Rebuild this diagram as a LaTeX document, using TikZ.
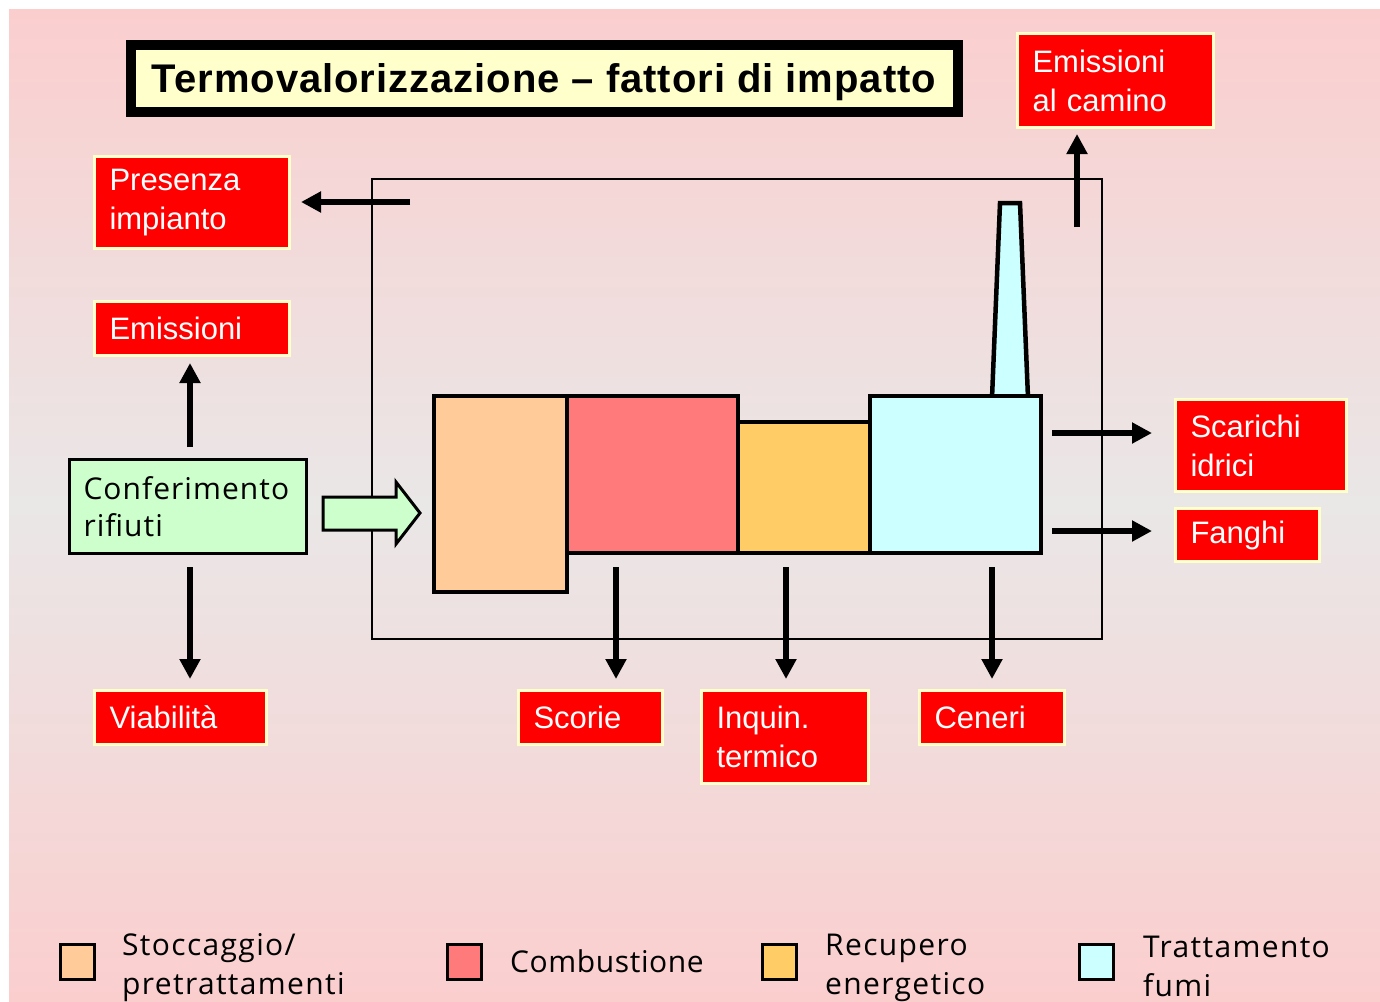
\documentclass[tikz,border=0pt]{standalone}
\usepackage{fontspec}
\setmainfont{Liberation Sans}
\newfontfamily\handfont{Open Sans}
\usetikzlibrary{arrows.meta}

\definecolor{bgpink}{RGB}{251,206,206}
\definecolor{bggrey}{RGB}{234,231,231}
\definecolor{paleyellow}{RGB}{255,255,204}
\definecolor{boxred}{RGB}{255,0,0}
\definecolor{palegreen}{RGB}{204,255,204}
\definecolor{storeorange}{RGB}{255,204,153}
\definecolor{combred}{RGB}{255,122,122}
\definecolor{energyorange}{RGB}{255,204,102}
\definecolor{fumecyan}{RGB}{204,255,255}

\tikzset{
  impact/.style={draw=paleyellow, line width=3pt, fill=boxred, text=white,
    font=\fontsize{31}{39}\selectfont, align=left, anchor=north west,
    inner xsep=15pt, inner ysep=0pt},
  unit/.style={draw=black, line width=4.5pt, fill=#1, inner sep=0pt, outer sep=0pt,
    anchor=north west},
  arr/.style={line width=6.5pt, -{Triangle[length=20pt,width=20pt]}},
  legendbox/.style={draw=black, line width=3pt, fill=#1, minimum width=34pt,
    minimum height=35pt, inner sep=0pt, anchor=north west},
  legendtext/.style={font=\handfont\fontsize{30}{39}\selectfont\addfontfeatures{LetterSpace=4.5},
    align=left, anchor=west, inner sep=0pt},
}

\begin{document}
\begin{tikzpicture}[x=1pt,y=-1pt]
\useasboundingbox (0,0) rectangle (1380,1001);

% background with vertical pink-grey-pink gradient
\fill[top color=bgpink, bottom color=bgpink, middle color=bggrey] (9,9) rectangle (1380,1001);

% title
\node[draw=black, line width=10pt, fill=paleyellow, minimum width=827pt, minimum height=67pt,
      inner sep=0pt, text height=32pt, text depth=4pt,
      font=\bfseries\fontsize{40}{40}\selectfont] (title) at (544,78)
      {\addfontfeatures{LetterSpace=2.4}Termovalorizzazione -- fattori di impatto};

% plant boundary
\draw[line width=2pt] (372,179) rectangle (1102,639);

% process units
\draw[line width=4.5pt, fill=fumecyan] (1000,203) -- (1020,203) -- (1028,398) -- (992,398) -- cycle;
\node[unit=storeorange, minimum width=133pt, minimum height=196pt] (stock) at (434,396) {};
\node[unit=combred, minimum width=171pt, minimum height=157pt] (comb) at (567,396) {};
\node[unit=energyorange, minimum width=132pt, minimum height=131pt] (recup) at (738,422) {};
\node[unit=fumecyan, minimum width=171pt, minimum height=157pt] (fumi) at (870,396) {};

% impact boxes
\node[impact, text width=165pt, minimum height=92pt] (pres) at (93,155) {Presenza\\impianto};
\node[impact, text width=165pt, minimum height=54pt] (emis) at (93,300) {Emissioni};
\node[impact, text width=142pt, minimum height=54pt] (viab) at (93,689) {Viabilità};
\node[impact, text width=166pt, minimum height=94pt] (camino) at (1016,32) {Emissioni\\al camino};
\node[impact, text width=141pt, minimum height=92pt] (scar) at (1174,398) {Scarichi\\idrici};
\node[impact, text width=114pt, minimum height=53pt] (fang) at (1174,507) {Fanghi};
\node[impact, text width=114pt, minimum height=54pt] (scor) at (517,689) {Scorie};
\node[impact, text width=137pt, minimum height=93pt] (inq) at (700,689) {Inquin.\\termico};
\node[impact, text width=115pt, minimum height=54pt] (cen) at (918,689) {Ceneri};

% waste delivery
\node[draw=black, line width=3pt, fill=palegreen, minimum width=237pt, minimum height=94pt,
      text width=209pt, inner xsep=14pt, align=left, anchor=north west,
      font=\handfont\fontsize{30}{37}\selectfont\addfontfeatures{LetterSpace=3.5}] (conf) at (68,458)
      {Conferimento\\rifiuti};
\draw[line width=3pt, fill=palegreen] (323,497) -- (396,497) -- (396,482) -- (420,513)
      -- (396,544) -- (396,530) -- (323,530) -- cycle;

% connector start points
\coordinate (p0) at (410,202);
\coordinate (c0) at (1077,227);
\coordinate (s0) at (1052,433);
\coordinate (f0) at (1052,531);
\coordinate (d1) at (616,567);
\coordinate (d2) at (786,567);
\coordinate (d3) at (992,567);
\coordinate (e0) at (190,447);
\coordinate (v0) at (190,567);

% impact arrows
\draw[arr, shorten >=10pt] (p0) -- (p0 -| pres.east);
\draw[arr, shorten >=6pt] (e0) -- (e0 |- emis.south);
\draw[arr, shorten >=10pt] (v0) -- (v0 |- viab.north);
\draw[arr, shorten >=5pt] (c0) -- (c0 |- camino.south);
\draw[arr, shorten >=22pt] (s0) -- (s0 -| scar.west);
\draw[arr, shorten >=22pt] (f0) -- (f0 -| fang.west);
\draw[arr, shorten >=10pt] (d1) -- (d1 |- scor.north);
\draw[arr, shorten >=10pt] (d2) -- (d2 |- inq.north);
\draw[arr, shorten >=10pt] (d3) -- (d3 |- cen.north);

% legend
\node[legendbox=storeorange] (l1) at (59,943) {};
\node[legendtext] (t1) at (122,968) {Stoccaggio/\\pretrattamenti};
\node[legendbox=combred] (l2) at (446,943) {};
\node[legendtext, font=\handfont\fontsize{30}{39}\selectfont\addfontfeatures{LetterSpace=2}]
      (t2) at (510,961) {Combustione};
\node[legendbox=energyorange] (l3) at (761,943) {};
\node[legendtext] (t3) at (825,968) {Recupero\\energetico};
\node[legendbox=fumecyan] (l4) at (1078,943) {};
\node[legendtext] (t4) at (1143,966) {Trattamento\\fumi};
\end{tikzpicture}
\end{document}
